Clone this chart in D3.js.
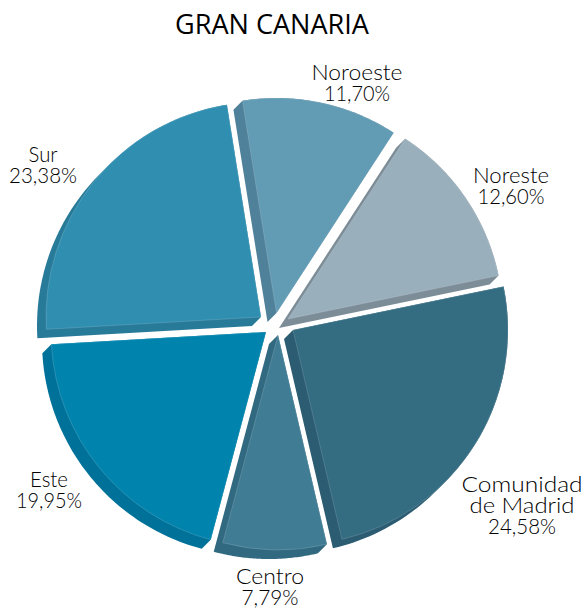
<!DOCTYPE html>
<html><head><meta charset="utf-8">
<script src="https://cdn.jsdelivr.net/npm/d3@7"></script>
<style>html,body{margin:0;padding:0;background:#fff}svg{display:block}</style>
</head><body><svg id="c" width="586" height="608"></svg>
<script>
const categories = ["Noreste","Comunidad de Madrid","Centro","Este","Sur","Noroeste"];
const values = [12.60,24.58,7.79,19.95,23.38,11.70];
const valueLabels = ["12,60%","24,58%","7,79%","19,95%","23,38%","11,70%"];
const title = "GRAN CANARIA";

const faceColors = ["#9aafbc","#346c82","#417c95","#0084ad","#308fb1","#629bb4"];
const wallColors = ["#7c8d98","#2b5c71","#316a80","#00729a","#287a99","#50819a"];
const apex = [[288,319],[293,330],[278,335],[266,332],[261,317],[276.5,313]];
const labelBlocks = [
 {x:511,y:183,lines:["Noreste"],w:[76,67]},
 {x:522,y:492,lines:["Comunidad","de Madrid"],w:[121,105,68]},
 {x:270,y:584,lines:["Centro"],w:[68,57]},
 {x:49,y:487,lines:["Este"],w:[38,66]},
 {x:43,y:162,lines:["Sur"],w:[29,68]},
 {x:357,y:80,lines:["Noroeste"],w:[91,66]}
];
const R = 215, depth = [-9,9];
const svg = d3.select("#c");
const pie = d3.pie().value(d=>d).sort(null).startAngle(33*Math.PI/180).endAngle((33+360)*Math.PI/180);
const arcs = pie(values);
const arc = d3.arc().innerRadius(0).outerRadius(R);

function outline(a,ox,oy){
  const n=60, pts=[[ox,oy]];
  d3.range(n+1).forEach(i=>{
    const t=a.startAngle+(a.endAngle-a.startAngle)*i/n;
    pts.push([ox+R*Math.sin(t),oy-R*Math.cos(t)]);
  });
  return pts;
}
const g = svg.selectAll("g.s").data(arcs).join("g").attr("class","s");
g.append("path")
 .attr("d",(a,i)=>{
   const [x,y]=apex[i];
   const hull=d3.polygonHull(outline(a,x,y).concat(outline(a,x+depth[0],y+depth[1])));
   return d3.line()(hull)+"Z";
 })
 .attr("fill",(a,i)=>wallColors[i]);
g.append("path")
 .attr("transform",(a,i)=>`translate(${apex[i]})`)
 .attr("d",arc)
 .attr("fill",(a,i)=>faceColors[i])
 .attr("stroke","rgba(255,255,255,0.22)").attr("stroke-width",0.7);

svg.append("text").attr("x",272).attr("y",34).attr("text-anchor","middle")
 .attr("font-family","'Open Sans', sans-serif").attr("font-size",27).attr("fill","#000")
 .attr("textLength",194).attr("lengthAdjust","spacingAndGlyphs").text(title);

labelBlocks.forEach((b,i)=>{
  b.lines.concat([valueLabels[i]]).forEach((l,k)=>{
    svg.append("text").attr("text-anchor","middle")
     .attr("font-family","Lato, sans-serif").attr("font-weight",300).attr("font-size",21).attr("fill","#000")
     .attr("x",b.x).attr("y",b.y+k*21)
     .attr("textLength",b.w[k]).attr("lengthAdjust","spacingAndGlyphs").text(l);
  });
});
</script></body></html>
